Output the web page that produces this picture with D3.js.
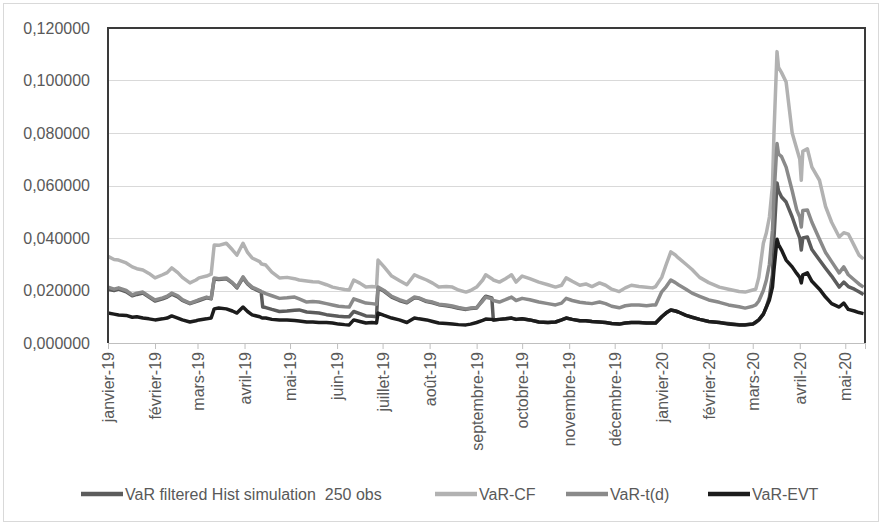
<!DOCTYPE html>
<html>
<head>
<meta charset="utf-8">
<script src="https://cdn.jsdelivr.net/npm/d3@7"></script>
<style>
body { margin: 0; background: #fff; }
svg { display: block; }
</style>
</head>
<body>
<div class="chart"></div>
<script>
var width = 882, height = 525;

// dates of the readings
var dates = [
  "2019-01-01","2019-01-05","2019-01-08","2019-01-13","2019-01-17","2019-01-20","2019-01-24","2019-01-28",
  "2019-02-01","2019-02-06","2019-02-09","2019-02-12","2019-02-16","2019-02-19","2019-02-24","2019-02-28",
  "2019-03-02","2019-03-07","2019-03-10","2019-03-12","2019-03-15","2019-03-20","2019-03-24","2019-03-27",
  "2019-03-31","2019-04-03","2019-04-06","2019-04-11","2019-04-12","2019-04-13","2019-04-15","2019-04-19",
  "2019-04-24","2019-04-29","2019-05-04","2019-05-07","2019-05-12","2019-05-16","2019-05-20","2019-05-25",
  "2019-05-29","2019-06-02","2019-06-06","2019-06-09","2019-06-12","2019-06-16","2019-06-20","2019-06-24",
  "2019-06-27","2019-06-28","2019-07-02","2019-07-07","2019-07-12","2019-07-17","2019-07-22","2019-07-25",
  "2019-07-30","2019-08-03","2019-08-07","2019-08-12","2019-08-16","2019-08-20","2019-08-25","2019-08-28",
  "2019-09-01","2019-09-05","2019-09-07","2019-09-11","2019-09-12","2019-09-16","2019-09-20","2019-09-24",
  "2019-09-27","2019-10-01","2019-10-06","2019-10-12","2019-10-18","2019-10-23","2019-10-27","2019-10-30",
  "2019-11-03","2019-11-08","2019-11-12","2019-11-16","2019-11-21","2019-11-25","2019-11-29","2019-12-04",
  "2019-12-08","2019-12-12","2019-12-17","2019-12-22","2019-12-26","2019-12-28","2020-01-01","2020-01-04",
  "2020-01-07","2020-01-10","2020-01-12","2020-01-17","2020-01-21","2020-01-26","2020-02-01","2020-02-08",
  "2020-02-14","2020-02-21","2020-02-25","2020-03-01","2020-03-03","2020-03-05","2020-03-08","2020-03-10",
  "2020-03-12","2020-03-14","2020-03-15","2020-03-17","2020-03-18","2020-03-20","2020-03-23","2020-03-27",
  "2020-03-30","2020-04-01","2020-04-02","2020-04-03","2020-04-06","2020-04-09","2020-04-14","2020-04-18",
  "2020-04-22","2020-04-27","2020-04-30","2020-05-03","2020-05-07","2020-05-10","2020-05-13"
];

var varFHS = [
  .0205,.0200,.0205,.0195,.0180,.0185,.0190,.0175,
  .0160,.0168,.0175,.0186,.0176,.0162,.0150,.0158,
  .0162,.0172,.0168,.0244,.0242,.0245,.0228,.0210,
  .0248,.0225,.0210,.0197,.0192,.0137,.0135,.0128,
  .0120,.0122,.0125,.0126,.0118,.0116,.0114,.0108,
  .0105,.0102,.0100,.0100,.0120,.0112,.0103,.0102,
  .0100,.0210,.0197,.0175,.0162,.0153,.0172,.0170,
  .0158,.0153,.0146,.0142,.0138,.0132,.0128,.0131,
  .0133,.0165,.0178,.0172,.0088,.0090,.0092,.0095,
  .0090,.0092,.0088,.0080,.0078,.0080,.0088,.0095,
  .0090,.0085,.0085,.0082,.0080,.0078,.0074,.0072,
  .0076,.0078,.0078,.0076,.0076,.0076,.0100,.0115,
  .0126,.0122,.0118,.0105,.0098,.0090,.0082,.0078,
  .0074,.0070,.0070,.0072,.0078,.0088,.0110,.0137,
  .0175,.0260,.0400,.0610,.0580,.0556,.0537,.0480,
  .0430,.0400,.0354,.0400,.0404,.0356,.0316,.0285,
  .0255,.0213,.0232,.0215,.0205,.0195,.0185
];

var varCF = [
  .0330,.0318,.0316,.0305,.0290,.0283,.0278,.0265,
  .0248,.0260,.0268,.0286,.0268,.0250,.0229,.0240,
  .0248,.0255,.0262,.0373,.0372,.0380,.0355,.0335,
  .0380,.0345,.0324,.0310,.0302,.0300,.0297,.0270,
  .0248,.0250,.0245,.0240,.0236,.0233,.0232,.0222,
  .0213,.0208,.0204,.0202,.0240,.0228,.0213,.0215,
  .0213,.0316,.0290,.0255,.0238,.0222,.0260,.0252,
  .0240,.0228,.0213,.0215,.0213,.0202,.0194,.0200,
  .0213,.0240,.0260,.0245,.0240,.0232,.0245,.0260,
  .0232,.0255,.0245,.0232,.0222,.0213,.0220,.0248,
  .0235,.0220,.0225,.0215,.0229,.0220,.0205,.0196,
  .0210,.0220,.0215,.0212,.0210,.0215,.0250,.0300,
  .0347,.0335,.0324,.0300,.0280,.0250,.0230,.0213,
  .0205,.0196,.0194,.0202,.0205,.0250,.0380,.0420,
  .0480,.0600,.0800,.1110,.1050,.1030,.0994,.0800,
  .0740,.0700,.0620,.0730,.0740,.0670,.0620,.0520,
  .0460,.0404,.0420,.0415,.0370,.0335,.0320
];

var varTD = [
  .0213,.0205,.0210,.0200,.0183,.0190,.0194,.0178,
  .0164,.0172,.0178,.0190,.0180,.0165,.0152,.0160,
  .0165,.0175,.0170,.0248,.0245,.0248,.0230,.0213,
  .0252,.0228,.0213,.0200,.0196,.0194,.0188,.0180,
  .0170,.0172,.0175,.0168,.0156,.0158,.0156,.0150,
  .0145,.0140,.0138,.0137,.0168,.0160,.0152,.0150,
  .0148,.0213,.0200,.0178,.0165,.0156,.0175,.0172,
  .0160,.0156,.0148,.0145,.0141,.0135,.0130,.0133,
  .0135,.0160,.0175,.0168,.0162,.0156,.0165,.0175,
  .0162,.0170,.0165,.0156,.0150,.0145,.0152,.0170,
  .0162,.0155,.0152,.0150,.0156,.0150,.0140,.0134,
  .0142,.0145,.0145,.0142,.0145,.0145,.0195,.0215,
  .0240,.0230,.0222,.0205,.0190,.0178,.0164,.0155,
  .0145,.0138,.0133,.0140,.0145,.0160,.0200,.0240,
  .0300,.0430,.0560,.0760,.0720,.0710,.0670,.0580,
  .0507,.0480,.0442,.0505,.0507,.0460,.0395,.0345,
  .0310,.0267,.0290,.0260,.0240,.0225,.0213
];

var varEVT = [
  .0114,.0110,.0107,.0105,.0098,.0100,.0095,.0092,
  .0088,.0092,.0095,.0103,.0095,.0088,.0080,.0085,
  .0088,.0092,.0095,.0130,.0133,.0130,.0122,.0114,
  .0137,.0120,.0107,.0100,.0097,.0095,.0095,.0090,
  .0088,.0088,.0086,.0084,.0080,.0080,.0078,.0078,
  .0076,.0072,.0070,.0069,.0088,.0082,.0076,.0078,
  .0076,.0114,.0105,.0095,.0088,.0078,.0095,.0092,
  .0088,.0082,.0076,.0074,.0072,.0070,.0069,.0072,
  .0078,.0086,.0091,.0090,.0088,.0090,.0092,.0095,
  .0090,.0092,.0088,.0080,.0078,.0080,.0088,.0095,
  .0090,.0085,.0085,.0082,.0080,.0078,.0074,.0072,
  .0076,.0078,.0078,.0076,.0076,.0076,.0100,.0115,
  .0126,.0122,.0118,.0105,.0098,.0090,.0082,.0078,
  .0072,.0069,.0069,.0072,.0080,.0088,.0110,.0137,
  .0164,.0213,.0280,.0395,.0375,.0354,.0316,.0290,
  .0265,.0250,.0229,.0260,.0267,.0235,.0205,.0175,
  .0150,.0137,.0152,.0128,.0122,.0116,.0112
];

var seriesNames = ["VaR filtered Hist simulation  250 obs", "VaR-CF", "VaR-t(d)", "VaR-EVT"];
var seriesColors = ["#5c5c5c", "#b2b2b2", "#8a8a8a", "#1c1c1c"];
var moisFr = ["janvier","février","mars","avril","mai","juin","juillet","août","septembre","octobre","novembre","décembre"];
var yTicks = [0, 0.02, 0.04, 0.06, 0.08, 0.10, 0.12];

var margin = {top: 28, right: 17, bottom: 182, left: 108};
var innerW = width - margin.left - margin.right,
    innerH = height - margin.top - margin.bottom;

var parse = d3.timeParse("%Y-%m-%d");
var xDates = dates.map(parse);

var x = d3.scaleTime()
    .domain([new Date(2019, 0, 1), new Date(2020, 4, 14)])
    .range([0, innerW]);
var y = d3.scaleLinear().domain([0, 0.12]).range([innerH, 0]);

var frFormat = d3.formatLocale({decimal: ",", thousands: " ", grouping: [3], currency: ["", " €"]}).format(".6f");

var svg = d3.select(".chart")
    .append("svg")
    .attr("width", width)
    .attr("height", height)
    .style("font-family", "'Liberation Sans', Arial, sans-serif");

// outer chart border
svg.append("rect")
    .attr("x", 3.5).attr("y", 3.5)
    .attr("width", width - 7).attr("height", height - 7)
    .attr("fill", "#fff")
    .attr("stroke", "#d9d9d9");

var g = svg.append("g")
    .attr("transform", "translate(" + margin.left + "," + margin.top + ")");

// gridlines
g.selectAll(".grid")
    .data(yTicks.slice(1))
    .enter().append("line")
    .attr("x1", 0).attr("x2", innerW)
    .attr("y1", function(d) { return Math.round(y(d)) + 0.5; })
    .attr("y2", function(d) { return Math.round(y(d)) + 0.5; })
    .attr("stroke", "#d9d9d9")
    .attr("stroke-width", 1);

// y axis labels
var yAxis = d3.axisLeft(y).tickValues(yTicks).tickFormat(frFormat).tickSize(0).tickPadding(18);
g.append("g").call(yAxis)
    .call(function(s) { s.select(".domain").remove(); })
    .selectAll("text")
    .attr("fill", "#595959")
    .style("font-size", "16px");

// x axis
var months = d3.timeMonth.range(new Date(2019, 0, 1), new Date(2020, 4, 14));
var xAxis = d3.axisBottom(x)
    .tickValues(months)
    .tickSize(6)
    .tickFormat(function(d) { return moisFr[d.getMonth()] + "-" + String(d.getFullYear()).slice(2); });
var xg = g.append("g")
    .attr("transform", "translate(0," + innerH + ")")
    .call(xAxis);
xg.select(".domain").attr("stroke", "#bfbfbf");
xg.selectAll(".tick line").attr("stroke", "#bfbfbf");
xg.selectAll(".tick text")
    .attr("fill", "#595959")
    .style("font-size", "16px")
    .attr("text-anchor", "end")
    .attr("transform", "rotate(-90)")
    .attr("x", -9)
    .attr("y", 0)
    .attr("dy", "0.35em");

// lines
var allSeries = [varFHS, varCF, varTD, varEVT];
var line = d3.line()
    .x(function(d, i) { return x(xDates[i]); })
    .y(function(d) { return y(d); });

g.selectAll(".serie")
    .data(allSeries)
    .enter().append("path")
    .attr("class", "serie")
    .attr("fill", "none")
    .attr("stroke", function(d, i) { return seriesColors[i]; })
    .attr("stroke-width", 3.5)
    .attr("stroke-linejoin", "round")
    .attr("d", line);

// dark frame on left, top and right
g.append("path")
    .attr("d", "M0," + innerH + "V0H" + innerW + "V" + innerH)
    .attr("fill", "none")
    .attr("stroke", "#3a3a3a")
    .attr("stroke-width", 2);

// legend
var legendX = [81, 435, 566, 708];
var legend = svg.append("g").attr("transform", "translate(0,494)");
var item = legend.selectAll(".leg")
    .data(seriesNames)
    .enter().append("g")
    .attr("transform", function(d, i) { return "translate(" + legendX[i] + ",0)"; });
item.append("line")
    .attr("x1", 0).attr("x2", 42)
    .attr("stroke", function(d, i) { return seriesColors[i]; })
    .attr("stroke-width", 4.5);
item.append("text")
    .attr("x", 44)
    .attr("dy", "0.35em")
    .style("white-space", "pre")
    .style("font-size", "16px")
    .attr("fill", "#595959")
    .text(function(d) { return d; });
</script>
</body>
</html>
